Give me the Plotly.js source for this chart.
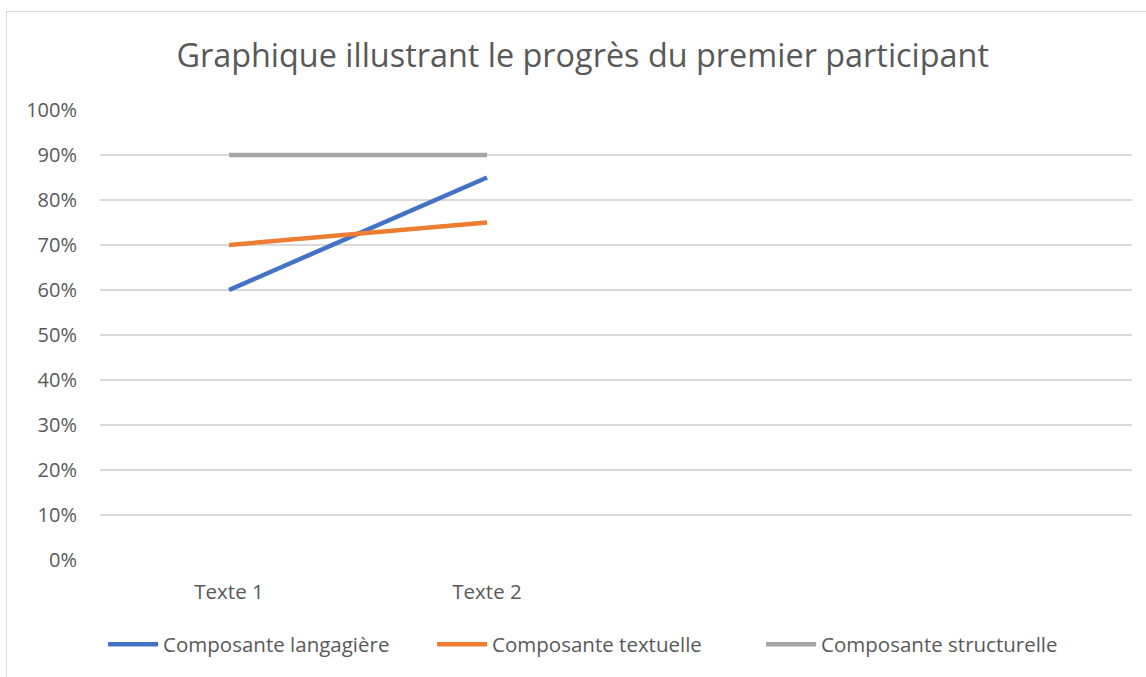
<!DOCTYPE html>
<html>
<head>
<meta charset="utf-8">
<script src="https://cdn.plot.ly/plotly-3.0.1.min.js"></script>
<style>
html,body{margin:0;padding:0;background:#fff;overflow:hidden;}
#frame{position:absolute;left:6px;top:11px;width:1140px;height:666px;border-left:1px solid #d9d9d9;border-top:1px solid #d9d9d9;}
#chart{width:1140px;height:666px;}
</style>
</head>
<body>
<div id="frame"><div id="chart"></div></div>
<script>
const categories = ["Texte 1", "Texte 2"];
const seriesNames = ["Composante langagière", "Composante textuelle", "Composante structurelle"];
const langagiere = [0.60, 0.85];
const textuelle = [0.70, 0.75];
const structurelle = [0.90, 0.90];
const colors = ["#4472C4", "#ED7D31", "#A5A5A5"];
const yTickVals = [0,0.1,0.2,0.3,0.4,0.5,0.6,0.7,0.8,0.9,1.0];
const yTickText = ["0%","10%","20%","30%","40%","50%","60%","70%","80%","90%","100%"];

const allValues = [langagiere, textuelle, structurelle];
const traces = allValues.map((vals, i) => ({
  type: "scatter",
  mode: "lines",
  x: categories,
  y: vals,
  name: seriesNames[i],
  line: {color: colors[i], width: 4.5}
}));

const font = "'Open Sans', 'Liberation Sans', sans-serif";
const layout = {
  width: 1140, height: 666,
  margin: {l: 93, r: 15, t: 98, b: 118, autoexpand: false},
  paper_bgcolor: "#fff", plot_bgcolor: "#fff",
  font: {family: font, color: "#595959", size: 18},
  title: {text: "Graphique illustrant le progrès du premier participant", font: {family: font, size: 32.4, color: "#595959"}, x: 0.505, xanchor: "center", y: 0.935, yanchor: "middle"},
  xaxis: {type: "category", range: [-0.5, 3.5], showgrid: false, zeroline: false, showline: false, ticks: "", ticklabelstandoff: 17, tickfont: {size: 20.5, color: "#595959"}, fixedrange: true},
  yaxis: {range: [0, 1], tickvals: yTickVals, ticktext: yTickText, showgrid: true, gridcolor: "#d9d9d9", gridwidth: 1.3, zeroline: false, showline: false, ticks: "", ticklabelstandoff: 22, tickfont: {size: 20, color: "#595959"}, fixedrange: true},
  legend: {orientation: "h", x: 0.003, xanchor: "left", y: -0.143, yanchor: "top", font: {size: 20.5, color: "#595959"}, itemwidth: 50, tracegroupgap: 0, entrywidthmode: "pixels", entrywidth: 264},
  showlegend: true
};
Plotly.newPlot("chart", traces, layout, {displayModeBar: false, staticPlot: true});
</script>
</body>
</html>
